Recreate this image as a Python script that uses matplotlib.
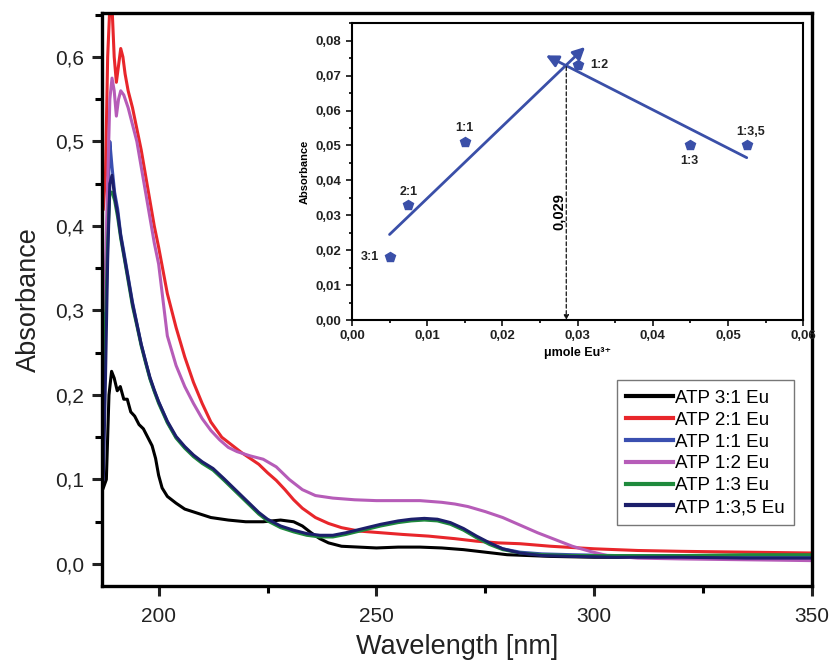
import matplotlib
matplotlib.use("Agg")
import matplotlib.pyplot as plt
from matplotlib.ticker import MultipleLocator, FuncFormatter

plt.rcParams["font.family"] = ["Liberation Sans", "DejaVu Sans"]

# --- main spectra (wavelength nm, absorbance) ---
wl_31 = [187.3, 188.0, 188.6, 189.2, 189.8, 190.5, 191.2, 192.0, 192.8, 193.6, 194.5, 195.5,
         196.5, 197.5, 198.5, 199.3, 200.0, 200.8, 202, 204, 206, 209, 212, 216, 220, 224,
         228, 231, 233, 235, 237, 239, 242, 246, 250, 255, 260, 265, 270, 275, 280, 285,
         290, 300, 310, 320, 335, 350]
ab_31 = [0.09, 0.10, 0.20, 0.228, 0.22, 0.205, 0.21, 0.195, 0.195, 0.18, 0.175, 0.165,
         0.16, 0.15, 0.14, 0.125, 0.105, 0.09, 0.08, 0.072, 0.065, 0.060, 0.055, 0.052,
         0.050, 0.050, 0.052, 0.050, 0.045, 0.037, 0.030, 0.025, 0.021, 0.020, 0.019,
         0.020, 0.020, 0.019, 0.017, 0.014, 0.011, 0.010, 0.009, 0.008, 0.008, 0.008,
         0.008, 0.008]

wl_21 = [187.3, 187.8, 188.3, 188.8, 189.3, 189.8, 190.3, 190.8, 191.3, 191.8, 192.3, 193,
         194, 195, 196, 197, 198, 199, 200, 202, 204, 206, 208, 210, 212, 214.5, 217, 219,
         221, 223, 225, 227, 229, 231, 233, 236, 239, 242, 246, 251, 256, 262, 268, 273,
         278, 283, 290, 300, 310, 320, 335, 350]
ab_21 = [0.42, 0.46, 0.60, 0.66, 0.66, 0.60, 0.57, 0.59, 0.61, 0.60, 0.58, 0.56,
         0.54, 0.515, 0.49, 0.46, 0.43, 0.40, 0.375, 0.32, 0.28, 0.245, 0.215, 0.19,
         0.168, 0.15, 0.14, 0.132, 0.125, 0.118, 0.108, 0.099, 0.088, 0.076, 0.066,
         0.055, 0.048, 0.043, 0.039, 0.037, 0.035, 0.033, 0.030, 0.027, 0.025, 0.024,
         0.021, 0.018, 0.016, 0.015, 0.014, 0.013]

wl_11 = [187.3, 187.8, 188.3, 188.8, 189.3, 189.9, 190.6, 191.3, 192, 193, 194, 195, 196,
         197, 198, 199, 200, 202, 204, 206, 208, 210, 212.5, 215, 217, 219, 221, 223, 225,
         228, 231, 234, 237, 240, 243, 247, 251, 255, 258, 261, 264, 267, 270, 273, 276,
         279, 283, 288, 295, 305, 320, 335, 350]
ab_11 = [0.25, 0.32, 0.42, 0.50, 0.47, 0.44, 0.42, 0.39, 0.37, 0.34, 0.31, 0.285, 0.26,
         0.24, 0.22, 0.205, 0.192, 0.168, 0.150, 0.138, 0.128, 0.120, 0.112, 0.100, 0.090,
         0.080, 0.070, 0.060, 0.052, 0.044, 0.039, 0.035, 0.033, 0.033, 0.036, 0.041,
         0.046, 0.050, 0.052, 0.053, 0.052, 0.048, 0.041, 0.032, 0.024, 0.018, 0.014,
         0.012, 0.011, 0.010, 0.010, 0.010, 0.010]

wl_12 = [187.3, 187.8, 188.3, 188.8, 189.3, 189.8, 190.3, 190.8, 191.3, 192, 193, 194, 195,
         196, 197, 198, 199, 200, 202, 204, 206, 208, 210, 212, 214, 216, 218, 221, 224,
         227, 230, 233, 236, 240, 245, 250, 255, 260, 265, 268, 271, 275, 279, 283, 287,
         291, 295, 299, 303, 310, 320, 335, 350]
ab_12 = [0.30, 0.35, 0.45, 0.55, 0.575, 0.56, 0.53, 0.55, 0.56, 0.555, 0.54, 0.52, 0.50,
         0.47, 0.44, 0.41, 0.38, 0.355, 0.27, 0.235, 0.21, 0.19, 0.172, 0.158, 0.147,
         0.138, 0.133, 0.128, 0.124, 0.115, 0.100, 0.088, 0.081, 0.078, 0.076, 0.075,
         0.075, 0.075, 0.073, 0.071, 0.068, 0.062, 0.055, 0.046, 0.037, 0.029, 0.021,
         0.015, 0.010, 0.007, 0.006, 0.005, 0.004]

wl_13 = [187.3, 187.8, 188.3, 188.8, 189.3, 189.9, 190.6, 191.3, 192, 193, 194, 195, 196,
         197, 198, 199, 200, 202, 204, 206, 208, 210, 212.5, 215, 217, 219, 221, 223, 225,
         228, 231, 234, 237, 240, 243, 247, 251, 255, 258, 261, 264, 267, 270, 273, 276,
         279, 283, 288, 295, 305, 320, 335, 350]
ab_13 = [0.20, 0.28, 0.38, 0.44, 0.44, 0.43, 0.41, 0.385, 0.365, 0.335, 0.305, 0.282,
         0.258, 0.238, 0.219, 0.204, 0.19, 0.167, 0.149, 0.137, 0.127, 0.119, 0.111,
         0.099, 0.089, 0.079, 0.069, 0.059, 0.051, 0.043, 0.038, 0.034, 0.032, 0.032,
         0.035, 0.040, 0.045, 0.049, 0.051, 0.052, 0.051, 0.047, 0.040, 0.031, 0.023,
         0.017, 0.013, 0.011, 0.010, 0.010, 0.010, 0.011, 0.011]

wl_135 = [187.3, 187.8, 188.3, 188.8, 189.3, 189.9, 190.6, 191.3, 192, 193, 194, 195, 196,
          197, 198, 199, 200, 202, 204, 206, 208, 210, 212.5, 215, 217, 219, 221, 223, 225,
          228, 231, 234, 237, 240, 243, 247, 251, 255, 258, 261, 264, 267, 270, 273, 276,
          279, 283, 288, 295, 305, 320, 335, 350]
ab_135 = [0.10, 0.22, 0.36, 0.45, 0.46, 0.435, 0.415, 0.388, 0.367, 0.338, 0.308, 0.284,
          0.26, 0.24, 0.221, 0.206, 0.192, 0.169, 0.151, 0.139, 0.129, 0.121, 0.113,
          0.101, 0.091, 0.081, 0.071, 0.061, 0.053, 0.045, 0.040, 0.036, 0.034, 0.034,
          0.037, 0.042, 0.047, 0.051, 0.053, 0.054, 0.053, 0.049, 0.042, 0.033, 0.025,
          0.018, 0.013, 0.010, 0.009, 0.008, 0.008, 0.007, 0.007]

labels = ["ATP 3:1 Eu", "ATP 2:1 Eu", "ATP 1:1 Eu", "ATP 1:2 Eu", "ATP 1:3 Eu", "ATP 1:3,5 Eu"]
colors = ["#000000", "#e8262b", "#3a4fb0", "#b65cb8", "#1f8a3c", "#1c1f6b"]

# --- inset (Job plot) ---
mole_eu = [0.005, 0.0075, 0.015, 0.030, 0.045, 0.0525]
abs_inset = [0.018, 0.033, 0.051, 0.073, 0.050, 0.050]
ratio_labels = ["3:1", "2:1", "1:1", "1:2", "1:3", "1:3,5"]
fit_up_x = [0.005, 0.031]
fit_up_y = [0.0245, 0.0782]
fit_down_x = [0.0525, 0.0258]
fit_down_y = [0.0465, 0.0758]
x_cross = 0.0285
y_cross = 0.0725


def comma(fmt):
    return FuncFormatter(lambda v, p: (fmt % v).replace(".", ","))


fig = plt.figure(figsize=(8.34, 6.64), dpi=100)
ax = fig.add_axes([0.1223, 0.1175, 0.8513, 0.8629])

series = [(wl_31, ab_31), (wl_21, ab_21), (wl_11, ab_11),
          (wl_12, ab_12), (wl_13, ab_13), (wl_135, ab_135)]
for (x, y), lab, c in zip(series, labels, colors):
    ax.plot(x, y, color=c, lw=2.2, label=lab)

ax.set_xlim(187, 350)
ax.set_ylim(-0.026, 0.652)
ax.xaxis.set_major_locator(MultipleLocator(50))
ax.xaxis.set_minor_locator(MultipleLocator(25))
ax.yaxis.set_major_locator(MultipleLocator(0.1))
ax.yaxis.set_minor_locator(MultipleLocator(0.05))
ax.yaxis.set_major_formatter(comma("%.1f"))
ax.tick_params(which="major", direction="out", length=7, width=2.2, labelsize=15,
               top=False, right=False, colors="#222222")
ax.tick_params(axis="x", which="major", pad=8)
ax.tick_params(axis="y", which="major", pad=6)
ax.tick_params(which="minor", direction="out", length=5, width=2.2, top=False, right=False)
for s in ax.spines.values():
    s.set_linewidth(2.4)
ax.set_xlabel("Wavelength [nm]", fontsize=19.5, color="#222222", labelpad=6)
ax.set_ylabel("Absorbance", fontsize=19.5, color="#222222", labelpad=9)

leg = ax.legend(loc="upper right", bbox_to_anchor=(0.988, 0.375), fontsize=13.5,
                handlelength=2.5, handletextpad=0.1, labelspacing=0.25,
                borderpad=0.5, fancybox=False, framealpha=1)
leg.get_frame().set_edgecolor("#777777")
leg.get_frame().set_linewidth(1.0)
for line in leg.get_lines():
    line.set_linewidth(3)

# inset
ins = fig.add_axes([0.422, 0.518, 0.541, 0.447])
blue = "#3a4fa8"
ins.plot(mole_eu, abs_inset, "p", color=blue, ms=7.5, zorder=3)
ins.annotate("", xy=(fit_up_x[1], fit_up_y[1]), xytext=(fit_up_x[0], fit_up_y[0]),
             arrowprops=dict(arrowstyle="-|>", color=blue, lw=2.0, mutation_scale=18,
                             shrinkA=0, shrinkB=0))
ins.annotate("", xy=(fit_down_x[1], fit_down_y[1]), xytext=(fit_down_x[0], fit_down_y[0]),
             arrowprops=dict(arrowstyle="-|>", color=blue, lw=2.0, mutation_scale=18,
                             shrinkA=0, shrinkB=0))
ins.annotate("", xy=(x_cross, 0.0), xytext=(x_cross, y_cross),
             arrowprops=dict(arrowstyle="-|>", color="#111111", lw=0.9, ls=(0, (3, 2)),
                             mutation_scale=7, shrinkA=0, shrinkB=0))
ins.text(x_cross - 0.0010, 0.031, "0,029", rotation=90, ha="center", va="center",
         fontsize=10.5, fontweight="bold")

offsets = {"3:1": (-14, 0), "2:1": (0, 9), "1:1": (0, 10), "1:2": (16, 0),
           "1:3": (-1, -11), "1:3,5": (3, 10)}
for xv, yv, lab in zip(mole_eu, abs_inset, ratio_labels):
    dx, dy = offsets[lab]
    ins.annotate(lab, (xv, yv), textcoords="offset points", xytext=(dx, dy),
                 ha="center", va="center", fontsize=9, fontweight="bold",
                 color="#222222")

ins.set_xlim(0, 0.06)
ins.set_ylim(0, 0.085)
ins.xaxis.set_major_locator(MultipleLocator(0.01))
ins.xaxis.set_minor_locator(MultipleLocator(0.005))
ins.yaxis.set_major_locator(MultipleLocator(0.01))
ins.yaxis.set_minor_locator(MultipleLocator(0.005))
ins.xaxis.set_major_formatter(comma("%.2f"))
ins.yaxis.set_major_formatter(comma("%.2f"))
ins.tick_params(which="major", direction="out", length=4, width=1.3, labelsize=9.5,
                top=False, right=False, colors="#222222")
ins.tick_params(which="minor", direction="out", length=2.5, width=1.2, top=False, right=False)
for lab in ins.get_xticklabels() + ins.get_yticklabels():
    lab.set_fontweight("bold")
for s in ins.spines.values():
    s.set_linewidth(1.5)
ins.set_ylabel("Absorbance", fontsize=8, fontweight="bold", labelpad=4)
ins.set_xlabel("\u03bcmole Eu\u00b3\u207a", fontsize=9, fontweight="bold", labelpad=3)

fig.savefig("out.png", dpi=100)
